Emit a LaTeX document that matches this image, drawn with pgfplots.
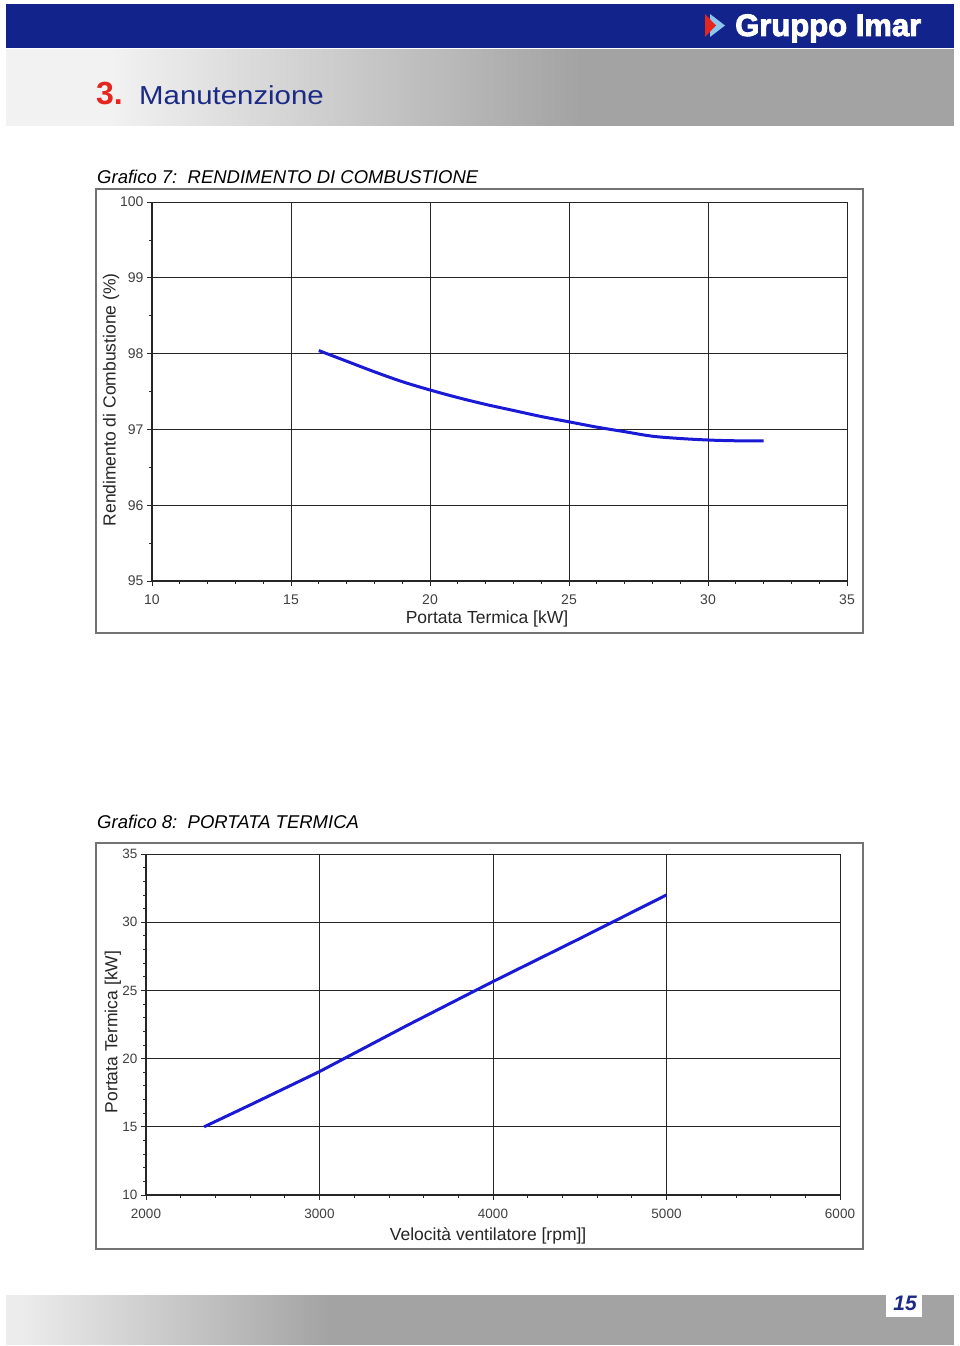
\documentclass[border=0pt]{standalone}
\usepackage{fontspec}
\setmainfont{Liberation Sans}
\newfontfamily\logofont[FakeBold=3]{Liberation Sans Bold}
\newfontfamily\headfont[FakeStretch=1.13]{Liberation Sans}
\usepackage{pgfplots}
\pgfplotsset{compat=1.18}
\definecolor{hdrblue}{HTML}{12238C}
\definecolor{titleblue}{HTML}{1B2A85}
\definecolor{titlered}{HTML}{E4261F}
\definecolor{lightarrow}{HTML}{8CC6EE}
\definecolor{gA}{HTML}{F2F2F2}
\definecolor{gB}{HTML}{A3A3A3}
\definecolor{curve}{HTML}{1A1AD6}
\definecolor{ticktext}{HTML}{404040}
\pgfplotsset{
  pagechart/.style={
    scale only axis,
    axis lines*=left,
    tick align=outside,
    major tick length=5pt,
    minor tick length=3pt,
    grid=major,
    major grid style={black!85,line width=1pt},
    axis line style={black!85,line width=1.2pt},
    every tick/.style={black!85,line width=0.8pt},
    tick label style={text=ticktext},
    /pgf/number format/assume math mode=true,
    /pgf/number format/1000 sep={},
    label style={font=\fontsize{17.5}{18}\selectfont,text=black!85},
    clip=false,
  }
}
\begin{document}
\begin{tikzpicture}
\useasboundingbox (0,0) rectangle (960pt,-1346pt);
\fill[white] (0,0) rectangle (960pt,-1346pt);
% header
\fill[hdrblue] (6pt,-4pt) rectangle (954pt,-48pt);
\begin{scope}
\clip (6pt,-50pt) rectangle (954pt,-125pt);
\fill[gB] (6pt,-40pt) rectangle (954pt,-135pt);
\fill[gA] (6pt,-40pt) rectangle (112pt,-135pt);
\shade[left color=gA,right color=gB] (110pt,-40pt) rectangle (580pt,-135pt);
\end{scope}
\fill[lightarrow] (710pt,-14pt) -- (725pt,-25.5pt) -- (710pt,-37pt) -- cycle;
\fill[titlered] (705pt,-14pt) -- (716pt,-25.5pt) -- (705pt,-37pt) -- cycle;
\node[anchor=base west,inner sep=0pt,text=white] at (735pt,-36pt) {\logofont\fontsize{31}{31}\selectfont Gruppo Imar};
\node[anchor=base west,inner sep=0pt,text=titlered] at (96pt,-104pt) {\fontsize{32}{32}\selectfont\bfseries 3.};
\node[anchor=base west,inner sep=0pt,text=titleblue] at (139pt,-104pt) {\headfont\fontsize{26}{26}\selectfont Manutenzione};
% footer
\begin{scope}
\clip (6pt,-1295pt) rectangle (954pt,-1344pt);
\fill[gB] (6pt,-1285pt) rectangle (954pt,-1354pt);
\fill[gA!95!gray] (6pt,-1285pt) rectangle (22pt,-1354pt);
\shade[left color=gA!95!gray,right color=gB] (20pt,-1285pt) rectangle (330pt,-1354pt);
\end{scope}
\fill[white] (886pt,-1289pt) rectangle (922pt,-1317pt);
\node[anchor=base,inner sep=0pt,text=titleblue] at (905pt,-1310pt) {\fontsize{21}{21}\selectfont\bfseries\itshape 15};
% chart titles
\node[anchor=base west,inner sep=0pt] at (97pt,-183pt) {\fontsize{18.5}{19}\selectfont\itshape Grafico 7:\ \ RENDIMENTO DI COMBUSTIONE};
\node[anchor=base west,inner sep=0pt] at (97pt,-828pt) {\fontsize{18.5}{19}\selectfont\itshape Grafico 8:\ \ PORTATA TERMICA};
% frames
\draw[black!55,line width=1.5pt] (96pt,-189pt) rectangle (863pt,-633pt);
\draw[black!55,line width=1.5pt] (96pt,-843pt) rectangle (863pt,-1249pt);
% chart 1
\begin{axis}[pagechart,
  at={(152pt,-581pt)}, anchor=south west,
  width=695pt, height=379pt,
  xmin=10, xmax=35, ymin=95, ymax=100,
  xtick={10,15,20,25,30,35}, ytick={95,96,97,98,99,100},
  minor x tick num=4, minor y tick num=1,
  tick label style={font=\fontsize{14}{14}\selectfont},
  xticklabel style={yshift=-5pt},
  xlabel={Portata Termica [kW]},
  ylabel={Rendimento di Combustione (\%)},
  xlabel style={at={(axis description cs:0.482,-0.1)},anchor=center},
  ylabel style={at={(axis description cs:-0.059,0.478)},anchor=center},
]
\addplot[curve,line width=3pt,smooth] coordinates {
(16,98.04) (17,97.90) (18,97.76) (19,97.63) (20,97.52) (21,97.42)
(22,97.33) (23,97.25) (24,97.17) (25,97.10) (26,97.03) (27,96.97)
(28,96.91) (29,96.88) (30,96.86) (31,96.85) (32,96.85)};
\end{axis}
% chart 2
\begin{axis}[pagechart,
  at={(146pt,-1195pt)}, anchor=south west,
  width=694pt, height=341pt,
  xmin=2000, xmax=6000, ymin=10, ymax=35,
  xtick={2000,3000,4000,5000,6000}, ytick={10,15,20,25,30,35},
  minor x tick num=4, minor y tick num=4,
  tick label style={font=\fontsize{13.5}{13.5}\selectfont},
  xticklabel style={yshift=-6pt},
  xlabel={Velocità ventilatore [rpm]]},
  ylabel={Portata Termica [kW]},
  xlabel style={at={(axis description cs:0.493,-0.12)},anchor=center},
  ylabel style={at={(axis description cs:-0.0476,0.478)},anchor=center},
]
\addplot[curve,line width=3pt] coordinates {
(2335,15.0) (2600,16.6) (3000,19.05) (3500,22.4) (4000,25.65) (4500,28.8) (5000,32.0)};
\end{axis}
\end{tikzpicture}
\end{document}
